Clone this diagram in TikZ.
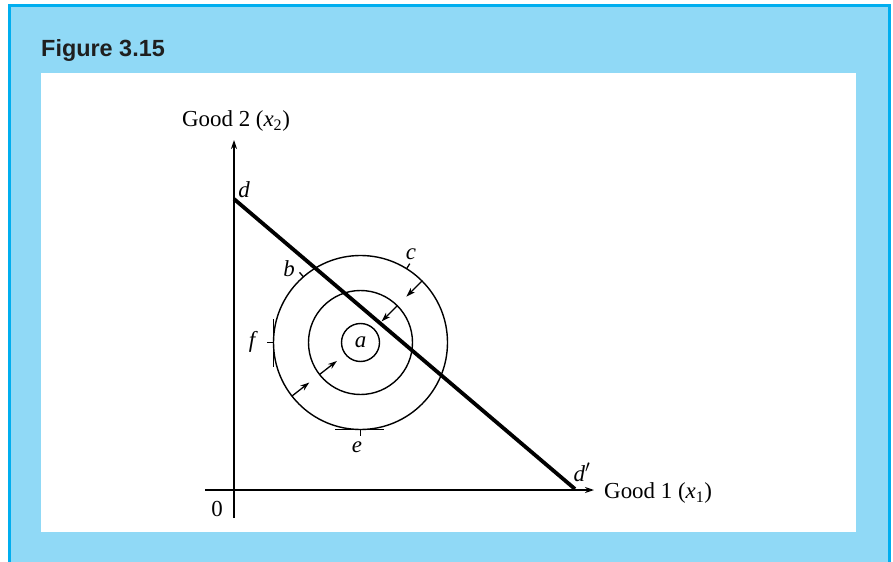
\documentclass[tikz,border=0pt]{standalone}
\usepackage{fontspec}
\setmainfont{Liberation Serif}
\setsansfont{Liberation Sans}
\usetikzlibrary{arrows.meta,calc}
\definecolor{frameblue}{RGB}{0,174,239}
\definecolor{panelblue}{RGB}{144,217,246}
\begin{document}
\begin{tikzpicture}[x=1bp,y=-1bp,
  lbl/.style={font=\fontsize{23}{26}\selectfont\itshape, inner sep=0pt},
  axlbl/.style={font=\fontsize{23}{26}\selectfont, inner sep=0pt},
  axis/.style={line width=1.3bp, -{Stealth[length=9bp,width=6bp]}},
  curve/.style={line width=1.4bp},
  budget/.style={line width=3.8bp},
  arr/.style={line width=1.3bp, -{Stealth[length=9bp,width=6bp]}},
  tick/.style={line width=1.3bp}]
\useasboundingbox (0,0) rectangle (893,562);
% frame
\fill[panelblue] (8,4) rectangle (891,562);
\draw[frameblue, line width=3bp] (9.5,562) -- (9.5,5.5) -- (889.5,5.5) -- (889.5,562);
\fill[white] (41,73) rectangle (856,532);
\node[anchor=base west, inner sep=0pt, font=\sffamily\bfseries\fontsize{23.5}{27}\selectfont, text=black!88] (title) at (41,57) {Figure 3.15};
% axes
\coordinate (o) at (234,490);
\coordinate (ybot) at (234,518);
\coordinate (ytop) at (234,140);
\coordinate (xleft) at (205,490);
\coordinate (xright) at (594,490);
\draw[axis] (ybot) -- (ytop);
\draw[axis] (xleft) -- (xright);
\node[axlbl] (y2) at (236,121) {Good 2 (\textit{x}\textsubscript{2})};
\node[axlbl, anchor=west] (x1) at (604,493) {Good 1 (\textit{x}\textsubscript{1})};
\node[axlbl] (zero) at (217,509) {0};
% budget line
\coordinate (dpt) at (234,199);
\coordinate (dppt) at (575,489);
\draw[budget] (dpt) -- (dppt);
\node[lbl] (d) at (244,190) {d};
\node[lbl] (dp) at (582,472) {d\ensuremath{'}};
% circles
\coordinate (cen) at (360.5,342.5);
\node[circle, draw, curve, minimum size=38bp, inner sep=0pt] (ca) at (cen) {};
\node[lbl] (a) at (cen) {a};
\node[circle, draw, curve, minimum size=104bp, inner sep=0pt] (cm) at (cen) {};
\node[circle, draw, curve, minimum size=174bp, inner sep=0pt] (co) at (cen) {};
% ticks
\draw[tick] ($(cen)+(-131:87)$) -- ($(cen)+(-131:93)$);
\draw[tick] ($(cen)+(-58:87)$) -- ($(cen)+(-58:93)$);
\node[lbl] (b) at (289,269) {b};
\node[lbl] (c) at (411,254) {c};
% f tangent
\coordinate (f1) at (273.5,319);
\coordinate (f2) at (273.5,367);
\coordinate (ft1) at (267,342.5);
\coordinate (ft2) at (273.5,342.5);
\draw[tick] (f1) -- (f2);
\draw[tick] (ft1) -- (ft2);
\node[lbl] (f) at (252,342) {f};
% e tangent
\coordinate (e1) at (335,429.5);
\coordinate (e2) at (384,429.5);
\coordinate (et1) at (360.5,429.5);
\coordinate (et2) at (360.5,436);
\draw[tick] (e1) -- (e2);
\draw[tick] (et1) -- (et2);
\node[lbl] (e) at (357,447) {e};
% arrows
\draw[arr] ($(cen)+(-45:87)$) -- ($(cen)+(-45:65)$);
\draw[arr] ($(cen)+(-45:52)$) -- ($(cen)+(-45:30)$);
\draw[arr] ($(cen)+(142:87)$) -- ($(cen)+(142:65)$);
\draw[arr] ($(cen)+(142:52)$) -- ($(cen)+(142:30)$);
\end{tikzpicture}
\end{document}
